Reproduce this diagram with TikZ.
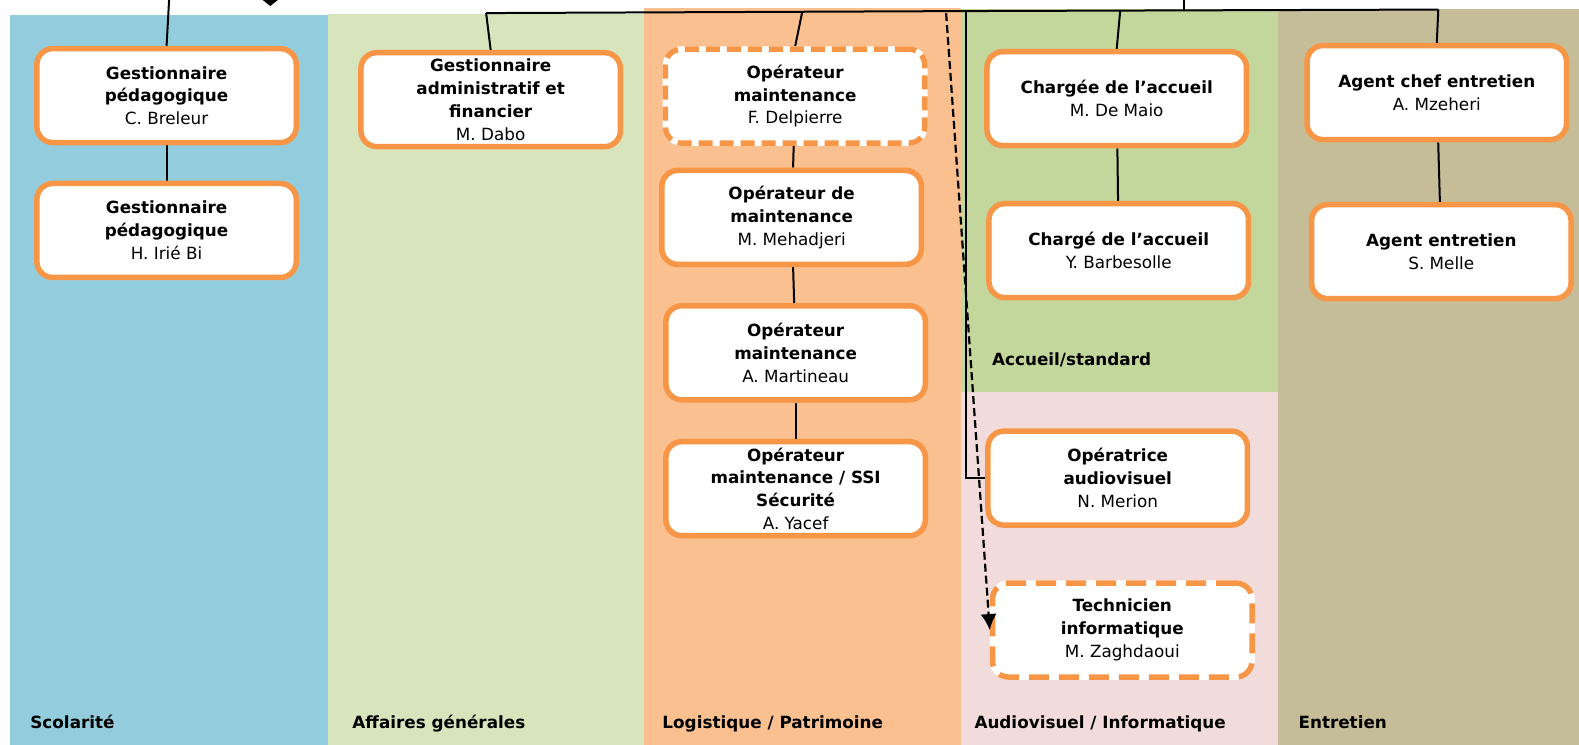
\documentclass[tikz,border=0pt]{standalone}
\usepackage{fontspec}
\setmainfont{DejaVu Sans}
\usetikzlibrary{arrows.meta}
\definecolor{scol}{HTML}{93CDDD}
\definecolor{affg}{HTML}{D8E4BC}
\definecolor{logi}{HTML}{FAC090}
\definecolor{accu}{HTML}{C3D69B}
\definecolor{audi}{HTML}{F2DCDB}
\definecolor{entr}{HTML}{C4BD97}
\definecolor{bordure}{HTML}{F79646}
\pgfdeclarelayer{bandes}
\pgfdeclarelayer{liens}
\pgfsetlayers{bandes,liens,main}
\tikzset{
  poste/.style={draw=bordure, line width=5.5bp, fill=white, rounded corners=16bp,
    minimum width=259.5bp, minimum height=94bp, inner sep=0pt, align=center,
    font=\fontsize{16.8bp}{22.8bp}\selectfont},
  interim/.style={poste, preaction={draw=white, solid, line width=5.5bp},
    dash pattern=on 14bp off 7bp},
  lien/.style={line width=2bp},
  rubrique/.style={anchor=base west, inner sep=0pt,
    font=\fontsize{16.8bp}{20bp}\selectfont\bfseries},
}

\begin{document}
\begin{tikzpicture}[x=1.0065bp,y=-1.0065bp]
   \useasboundingbox (0,0) rectangle (1568.8,739.2);
   \clip (0,0) rectangle (1568.8,739.2);
   % bandes des services
   \begin{pgfonlayer}{bandes}
   \fill[white] (0,0) rectangle (1568.8,739.2);
   \fill[scol] (10,15) rectangle (326,740);
   \fill[affg] (326,14) rectangle (640,740);
   \fill[logi] (640,8) rectangle (955,740);
   \fill[accu] (955,9) rectangle (1270,389);
   \fill[audi] (955,389) rectangle (1270,740);
   \fill[entr] (1270,9) rectangle (1570,740);
   \end{pgfonlayer}

   % postes
   \node[poste] (gp1) at (165.5,95) {\textbf{Gestionnaire}\\\textbf{pédagogique}\\C. Breleur};
   \node[poste] (gp2) at (165.5,229) {\textbf{Gestionnaire}\\\textbf{pédagogique}\\H. Irié Bi};
   \node[poste] (gaf) at (487.5,99) {\textbf{Gestionnaire}\\\textbf{administratif et}\\\textbf{financier}\\M. Dabo};
   \node[interim] (om1) at (790,95.5) {\textbf{Opérateur}\\\textbf{maintenance}\\F. Delpierre};
   \node[poste] (om2) at (786.5,216) {\textbf{Opérateur de}\\\textbf{maintenance}\\M. Mehadjeri};
   \node[poste] (om3) at (790.5,350.5) {\textbf{Opérateur}\\\textbf{maintenance}\\A. Martineau};
   \node[poste] (om4) at (790.5,485.5) {\textbf{Opérateur}\\\textbf{maintenance / SSI}\\\textbf{Sécurité}\\A. Yacef};
   \node[poste] (acc1) at (1109.5,98) {\textbf{Chargée de l’accueil}\\M. De Maio};
   \node[poste] (acc2) at (1111.5,249) {\textbf{Chargé de l’accueil}\\Y. Barbesolle};
   \node[poste] (av) at (1110.5,475) {\textbf{Opératrice}\\\textbf{audiovisuel}\\N. Merion};
   \node[interim, dash pattern=on 20bp off 10bp] (info) at (1115,626) {\textbf{Technicien}\\\textbf{informatique}\\M. Zaghdaoui};
   \node[poste] (ent1) at (1427.5,92) {\textbf{Agent chef entretien}\\A. Mzeheri};
   \node[poste] (ent2) at (1432,250) {\textbf{Agent entretien}\\S. Melle};

   % intitules
   \node[rubrique] (lscol) at (30,724) {Scolarité};
   \node[rubrique] (laffg) at (350,724) {Affaires générales};
   \node[rubrique] (llogi) at (658,724) {Logistique / Patrimoine};
   \node[rubrique] (laccu) at (985.5,363) {Accueil/standard};
   \node[rubrique] (laudi) at (968,724) {Audiovisuel / Informatique};
   \node[rubrique] (lentr) at (1290,724) {Entretien};

   % rattachements
   \coordinate (hautgp) at (168,0);
   \coordinate (bus1) at (483,13);
   \coordinate (bus2) at (797,12);
   \coordinate (bus3) at (960,11);
   \coordinate (bus4) at (1113,10);
   \coordinate (bus5) at (1176,10);
   \coordinate (bus6) at (1429,9.5);
   \coordinate (hautbus) at (1176,0);
   \coordinate (depart) at (940,13);
   \begin{pgfonlayer}{liens}
   \draw[lien] (hautgp) -- (gp1.north);
   \draw[lien] (gp1) -- (gp2);
   \draw[lien] (bus1) -- (bus3) -- (bus6);
   \draw[lien] (hautbus) -- (bus5);
   \draw[lien] (bus1) -- (gaf.north);
   \draw[lien] (bus2) -- (om1.north);
   \draw[lien] (om1) -- (om2);
   \draw[lien] (om2) -- (om3);
   \draw[lien] (om3) -- (om4);
   \draw[lien] (bus3) |- (av.west);
   \draw[lien] (bus4) -- (acc1.north);
   \draw[lien] (acc1) -- (acc2);
   \draw[lien] (bus6) -- (ent1.north);
   \draw[lien] (ent1) -- (ent2);
   \end{pgfonlayer}
   \draw[lien, line width=2.2bp, dash pattern=on 8bp off 4bp, -{Latex[length=16bp,width=16bp]}] (depart) -- (info.west);
   \fill (261,0) -- (268.5,6) -- (276,0) -- cycle;
\end{tikzpicture}
\end{document}
